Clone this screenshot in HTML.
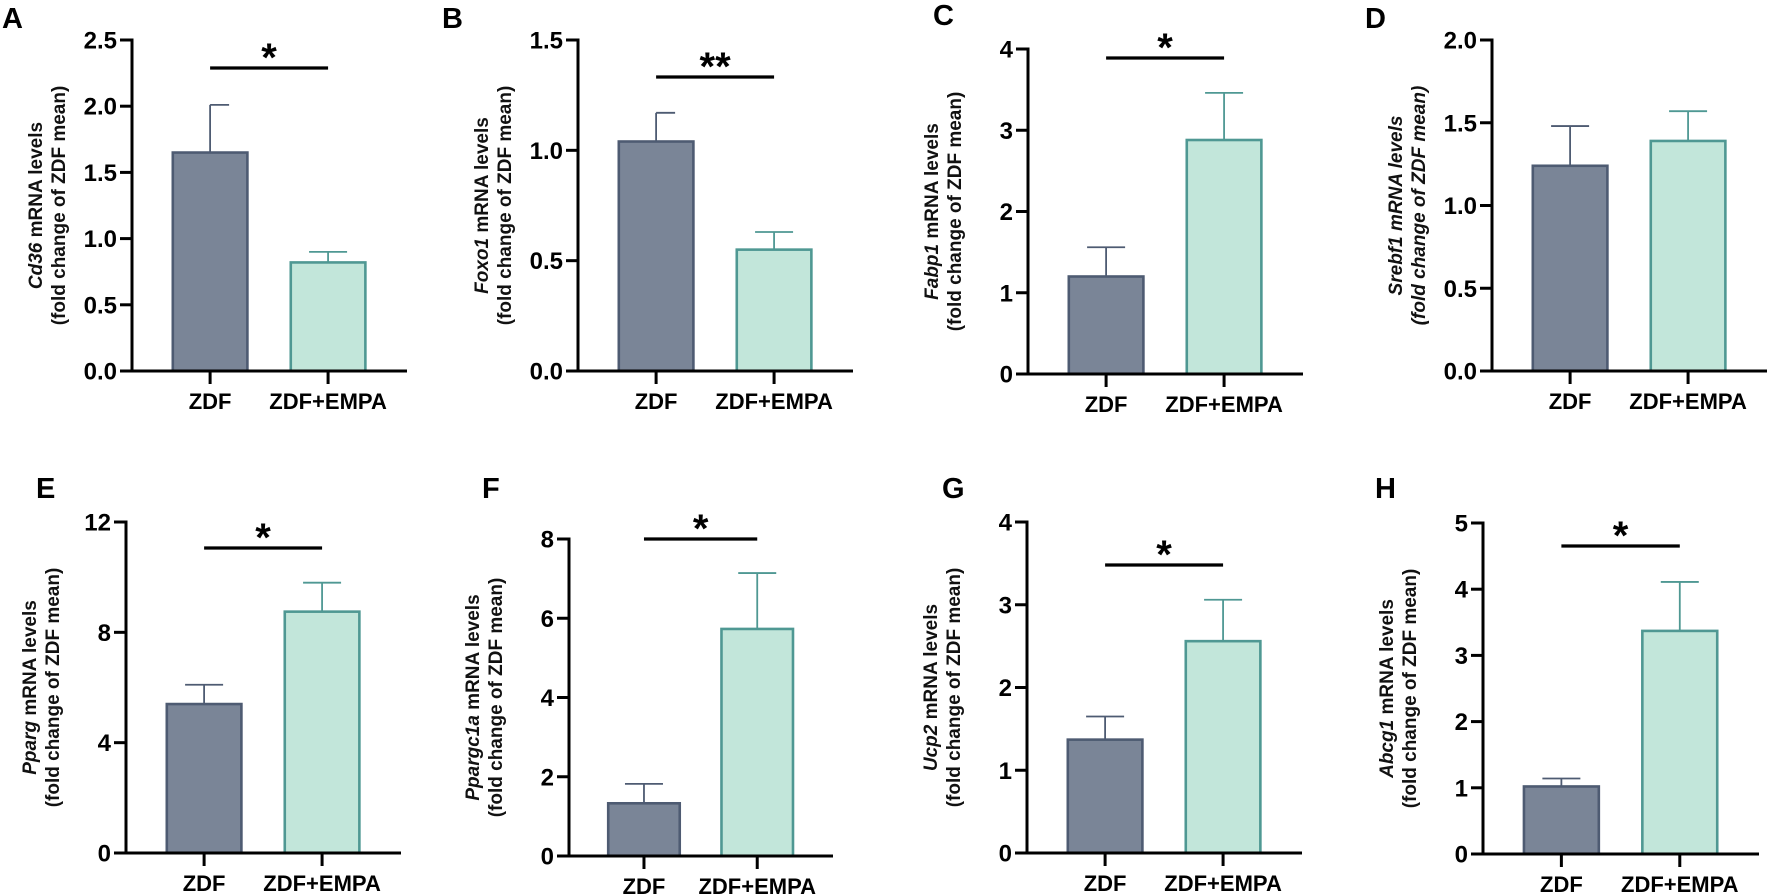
<!DOCTYPE html>
<html><head><meta charset="utf-8">
<style>
html,body{margin:0;padding:0;background:#fff;}
svg{display:block;font-family:"Liberation Sans",Arial,sans-serif;}
</style></head>
<body>
<svg id="fig" width="1772" height="896" viewBox="0 0 1772 896" xmlns="http://www.w3.org/2000/svg"></svg>
<script>
// ---- data ----
const panelIds = ["A","B","C","D","E","F","G","H"];
const genes = ["Cd36","Foxo1","Fabp1","Srebf1","Pparg","Ppargc1a","Ucp2","Abcg1"];
const categories = ["ZDF","ZDF+EMPA"];
const zdfMeans = [1.65,1.04,1.2,1.24,5.4,1.33,1.37,1.02];
const zdfErrTop = [2.01,1.17,1.56,1.48,6.1,1.82,1.65,1.14];
const empaMeans = [0.82,0.55,2.88,1.39,8.75,5.73,2.56,3.37];
const empaErrTop = [0.90,0.63,3.46,1.57,9.8,7.14,3.06,4.11];
const yMaxes = [2.5,1.5,4,2.0,12,8,4,5];
const yTickLabels = [
  ["0.0","0.5","1.0","1.5","2.0","2.5"],
  ["0.0","0.5","1.0","1.5"],
  ["0","1","2","3","4"],
  ["0.0","0.5","1.0","1.5","2.0"],
  ["0","4","8","12"],
  ["0","2","4","6","8"],
  ["0","1","2","3","4"],
  ["0","1","2","3","4","5"]
];
const sigLabels = ["*","**","*","","*","*","*","*"];
// ---- layout (pixels) ----
const axisX = [132,578,1028,1492,126,569,1027,1483];
const axisTop = [40,40,49,40,522,539,522,523];
const axisBottom = [371,371,374,371,853,856,853,854];
const axisLen = [275,275,275,275,275,264,275,276];
const sigY = [68,77,58,0,548,539,565,546];
const letterPos = [[2,28],[442,28],[933,25],[1365,28],[36,498],[482,498],[942,498],[1375,498]];
const rightOnlyCap = [true,true,false,false,false,false,false,false];

const NS = "http://www.w3.org/2000/svg";
const svg = document.getElementById("fig");
function mk(tag, attrs, parent){
  const e = document.createElementNS(NS, tag);
  for (const k in attrs) e.setAttribute(k, attrs[k]);
  (parent||svg).appendChild(e);
  return e;
}

panelIds.forEach((id, i) => {
  const g = mk("g", {});
  
  
  const ax = axisX[i], top = axisTop[i], bot = axisBottom[i], len = axisLen[i];
  const yScale = v => bot - (v / yMaxes[i]) * (bot - top);
  const xCenters = [ax + len*0.284, ax + len*0.713];
  const bw = len*0.28;

  const lt = mk("text", {x:letterPos[i][0], y:letterPos[i][1], "font-size":29, "font-weight":"bold", fill:"#000"}, g);
  lt.textContent = id;
  
  

  const means = [zdfMeans[i], empaMeans[i]];
  const errs = [zdfErrTop[i], empaErrTop[i]];
  const fills = ["#7a8597","#c2e6da"], strokes = ["#4e5b72","#4f9893"];
  for (let k = 0; k < 2; k++){
    const cx = xCenters[k];
    const yT = yScale(errs[k]), yM = yScale(means[k]);
    const cl = (k===0 && rightOnlyCap[i]) ? cx : cx - 19;
    const eb = mk("path", {d:`M${cx},${yM} V${yT} M${cl},${yT} H${cx+19}`, stroke:strokes[k], "stroke-width":1.8, fill:"none"}, g);
    
    
    const r = mk("rect", {x:cx-bw/2+1.2, y:yM, width:bw-2.4, height:bot-yM, fill:fills[k], stroke:strokes[k], "stroke-width":2.6}, g);
    
    
  }

  const ya = mk("line", {x1:ax, y1:top-1.5, x2:ax, y2:bot+1.5, stroke:"#000", "stroke-width":3}, g);
  
  
  const xa = mk("line", {x1:ax-12, y1:bot, x2:ax+len, y2:bot, stroke:"#000", "stroke-width":3}, g);
  
  

  const labs = yTickLabels[i];
  labs.forEach((lab) => {
    const y = yScale(parseFloat(lab));
    const tk = mk("line", {x1:ax-12, y1:y, x2:ax, y2:y, stroke:"#000", "stroke-width":3}, g);
    
    
    const t = mk("text", {x:ax-15, y:y+8.5, "font-size":24, "font-weight":"bold", "text-anchor":"end", fill:"#000"}, g);
    t.textContent = lab;
    
    
  });

  categories.forEach((c, k) => {
    const tk = mk("line", {x1:xCenters[k], y1:bot, x2:xCenters[k], y2:bot+13, stroke:"#000", "stroke-width":3}, g);
    
    
    const t = mk("text", {x:xCenters[k], y:bot+38, "font-size":22, "font-weight":"bold", "text-anchor":"middle", fill:"#000"}, g);
    t.textContent = c;
    
    
  });

  const midY = (top + bot) / 2;
  const allItal = genes[i] === "Srebf1";
  const t1 = mk("text", {transform:`translate(${ax-90},${midY}) rotate(-90)`, "font-size":19, "font-weight":"bold", "text-anchor":"middle", fill:"#111"}, g);
  
  
  const ts1 = mk("tspan", {"font-style":"italic"}, t1); ts1.textContent = genes[i];
  const ts2 = mk("tspan", allItal ? {"font-style":"italic"} : {}, t1); ts2.textContent = " mRNA levels";
  const t2 = mk("text", {transform:`translate(${ax-67},${midY}) rotate(-90)`, "font-size":19, "font-weight":"bold", "text-anchor":"middle", fill:"#111"}, g);
  if (allItal) t2.setAttribute("font-style","italic");
  t2.textContent = "(fold change of ZDF mean)";
  
  

  if (sigLabels[i]) {
    const sl = mk("line", {x1:xCenters[0], y1:sigY[i], x2:xCenters[1], y2:sigY[i], stroke:"#000", "stroke-width":3.2}, g);
    
    
    const st = mk("text", {x:(xCenters[0]+xCenters[1])/2, y:sigY[i]+3, "font-size":40, "font-weight":"bold", "text-anchor":"middle", fill:"#000"}, g);
    st.textContent = sigLabels[i];
    
    
  }
});
</script>
</body></html>
